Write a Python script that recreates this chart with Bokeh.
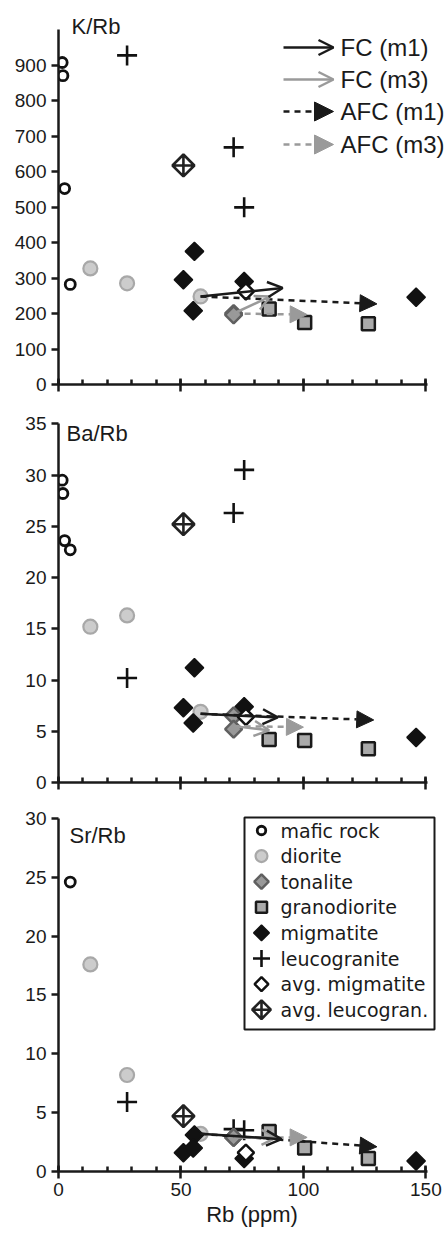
import math
from bokeh.plotting import figure
from bokeh.layouts import column
from bokeh.models import Range1d, FixedTicker, Arrow, OpenHead, NormalHead, Label
from bokeh.embed import file_html
from bokeh.resources import INLINE

NAN = float("nan")

# ------------------------------------------------------------------ data
# Rb (ppm) and element ratios, per rock group
mafic_rb = [1.5, 1.8, 2.5, 4.8]
mafic_k_rb = [907, 870, 552, 282]
mafic_ba_rb = [29.5, 28.2, 23.6, 22.7]
mafic_sr_rb = [NAN, NAN, NAN, 24.6]

diorite_rb = [13, 28, 58]
diorite_k_rb = [327, 285, 248]
diorite_ba_rb = [15.2, 16.3, 6.9]
diorite_sr_rb = [17.6, 8.2, 3.2]

tonalite_rb = [71.5, 71.5]
tonalite_k_rb = [200, 196]
tonalite_ba_rb = [6.5, 5.2]
tonalite_sr_rb = [2.9, 2.9]

granodiorite_rb = [86, 100.5, 126.5]
granodiorite_k_rb = [213, 175, 171]
granodiorite_ba_rb = [4.2, 4.1, 3.3]
granodiorite_sr_rb = [3.4, 2.0, 1.1]

migmatite_rb = [51, 55.5, 55, 75.8, 146]
migmatite_k_rb = [295, 375, 208, 290, 246]
migmatite_ba_rb = [7.3, 11.2, 5.8, 7.4, 4.4]
migmatite_sr_rb = [1.6, 3.1, 2.0, 1.1, 0.9]

leucogranite_rb = [28, 71.5, 75.8]
leucogranite_k_rb = [927, 668, 499]
leucogranite_ba_rb = [10.2, 26.3, 30.5]
leucogranite_sr_rb = [5.9, 3.6, 3.5]

avg_migmatite_rb = [76.5]
avg_migmatite_k_rb = [262]
avg_migmatite_ba_rb = [6.4]
avg_migmatite_sr_rb = [1.6]

avg_leucogran_rb = [51]
avg_leucogran_k_rb = [617]
avg_leucogran_ba_rb = [25.2]
avg_leucogran_sr_rb = [4.7]

# model trajectories: [x_start, y_start, x_end, y_end]
fc_m1_k = [58, 248, 91.5, 272]
fc_m3_k = [71.5, 200, 86.5, 248]
afc_m1_k = [58, 248, 130, 227]
afc_m3_k = [71.5, 200, 101.5, 197]

fc_m1_ba = [58, 6.7, 89.5, 6.35]
fc_m3_ba = [71.5, 5.5, 86, 5.1]
afc_m1_ba = [58, 6.7, 128.7, 6.1]
afc_m3_ba = [71.5, 5.5, 100, 5.4]

fc_m1_sr = [58, 3.2, 91, 2.75]
fc_m3_sr = [71.5, 2.9, 89, 2.9]
afc_m1_sr = [58, 3.2, 130, 2.1]
afc_m3_sr = [71.5, 2.9, 101.5, 2.9]

x_ticks = [0, 50, 100, 150]
x_minor = [0, 10, 20, 30, 40, 50, 60, 70, 80, 90, 100, 110, 120, 130, 140, 150]
k_ticks = [0, 100, 200, 300, 400, 500, 600, 700, 800, 900]
ba_ticks = [0, 5, 10, 15, 20, 25, 30, 35]
sr_ticks = [0, 5, 10, 15, 20, 25, 30]

group_names = ["mafic rock", "diorite", "tonalite", "granodiorite", "migmatite",
               "leucogranite", "avg. migmatite", "avg. leucogran."]
model_names = ["FC (m1)", "FC (m3)", "AFC (m1)", "AFC (m3)"]

# ------------------------------------------------------------------ layout
W = 445
LEFT = 58
X_END = 158.0
PX_X = (W - LEFT) / X_END
FONT = "Liberation Sans"
INK = "#1a1a1a"
GRAY_ARROW = "#9a9a9a"

STYLES = {
    "mafic rock": dict(marker="circle", size=10, fill_color="white", line_color="#111111", line_width=2.8, angle=0),
    "diorite": dict(marker="circle", size=14, fill_color="#cccccc", line_color="#a8a8a8", line_width=2.2, angle=0),
    "tonalite": dict(marker="square", size=12, fill_color="#999999", line_color="#606060", line_width=2.5, angle=math.pi / 4),
    "granodiorite": dict(marker="square", size=13, fill_color="#aaaaaa", line_color="#1a1a1a", line_width=2.5, angle=0),
    "migmatite": dict(marker="square", size=13, fill_color="#111111", line_color="#111111", line_width=1.5, angle=math.pi / 4),
    "leucogranite": dict(marker="cross", size=20, fill_color=None, line_color="#111111", line_width=2.6, angle=0),
    "avg. migmatite": dict(marker="square", size=11.5, fill_color="white", line_color="#111111", line_width=2.5, angle=math.pi / 4),
    "avg. leucogran.": dict(marker="square_x", size=15.5, fill_color="white", line_color="#222222", line_width=2.6, angle=math.pi / 4),
}


def xd(px):
    return (px - LEFT) / PX_X


def make_fig(height, border_bottom, y_end, y_bound, y_ticks, show_x):
    p = figure(width=W, height=height, x_range=Range1d(0, X_END), y_range=Range1d(0, y_end),
               output_backend="svg", toolbar_location=None,
               min_border_left=LEFT, min_border_right=0, min_border_top=0,
               min_border_bottom=border_bottom)
    p.outline_line_color = None
    p.xgrid.grid_line_color = None
    p.ygrid.grid_line_color = None
    p.background_fill_color = "white"
    p.border_fill_color = "white"

    xa = p.xaxis[0]
    xa.bounds = (0, 150.5)
    xa.ticker = FixedTicker(ticks=x_ticks, minor_ticks=x_minor)
    xa.axis_line_width = 2.5
    xa.axis_line_color = INK
    xa.major_tick_line_color = INK
    xa.major_tick_line_width = 2.5
    xa.major_tick_in = 6
    xa.major_tick_out = 7
    xa.minor_tick_line_color = INK
    xa.minor_tick_line_width = 2.5
    xa.minor_tick_in = 5
    xa.minor_tick_out = 0
    if show_x:
        xa.major_label_text_font = FONT
        xa.major_label_text_font_size = "19px"
        xa.major_label_text_color = INK
        xa.major_label_standoff = 4
        xa.axis_label = "Rb (ppm)"
        xa.axis_label_text_font = FONT
        xa.axis_label_text_font_size = "22px"
        xa.axis_label_text_font_style = "normal"
        xa.axis_label_text_color = INK
        xa.axis_label_standoff = 3
    else:
        xa.major_label_text_color = None
        xa.major_label_text_font_size = "0px"
        xa.major_label_standoff = 0

    ya = p.yaxis[0]
    ya.bounds = (0, y_bound)
    ya.ticker = FixedTicker(ticks=y_ticks)
    ya.axis_line_width = 2.5
    ya.axis_line_color = INK
    ya.major_tick_line_color = INK
    ya.major_tick_line_width = 2.5
    ya.major_tick_in = 0
    ya.major_tick_out = 7
    ya.minor_tick_line_color = None
    ya.major_label_text_font = FONT
    ya.major_label_text_font_size = "19px"
    ya.major_label_text_color = INK
    ya.major_label_standoff = 5
    return p


def add_groups(p, ys):
    xs = {
        "mafic rock": mafic_rb, "diorite": diorite_rb, "tonalite": tonalite_rb,
        "granodiorite": granodiorite_rb, "migmatite": migmatite_rb,
        "leucogranite": leucogranite_rb, "avg. migmatite": avg_migmatite_rb,
        "avg. leucogran.": avg_leucogran_rb,
    }
    for name in ["mafic rock", "diorite", "migmatite", "leucogranite", "avg. leucogran.",
                 "tonalite", "avg. migmatite", "granodiorite"]:
        st = STYLES[name]
        p.scatter(xs[name], ys[name], **st)


def add_models(p, fc_m1, fc_m3, afc_m1, afc_m3):
    p.add_layout(Arrow(end=NormalHead(size=17, fill_color=INK, line_color=INK, line_width=1),
                       x_start=afc_m1[0], y_start=afc_m1[1], x_end=afc_m1[2], y_end=afc_m1[3],
                       line_color=INK, line_width=2.5, line_dash="6 5"))
    p.add_layout(Arrow(end=NormalHead(size=17, fill_color=GRAY_ARROW, line_color=GRAY_ARROW, line_width=1),
                       x_start=afc_m3[0], y_start=afc_m3[1], x_end=afc_m3[2], y_end=afc_m3[3],
                       line_color=GRAY_ARROW, line_width=2.5, line_dash="6 5"))
    p.add_layout(Arrow(end=OpenHead(size=15, line_color=GRAY_ARROW, line_width=2.5),
                       x_start=fc_m3[0], y_start=fc_m3[1], x_end=fc_m3[2], y_end=fc_m3[3],
                       line_color=GRAY_ARROW, line_width=2.5))
    p.add_layout(Arrow(end=OpenHead(size=15, line_color=INK, line_width=2.5),
                       x_start=fc_m1[0], y_start=fc_m1[1], x_end=fc_m1[2], y_end=fc_m1[3],
                       line_color=INK, line_width=2.5))


def add_text(p, x, y, text, size, font=FONT, color=INK):
    p.add_layout(Label(x=x, y=y, text=text, text_font=font, text_font_size=f"{size}px",
                       text_color=color, text_align="left", text_baseline="middle"))


# ---------------- panel 1: K/Rb
H1, B1 = 400, 16
F1 = H1 - B1
S1 = 0.355
p1 = make_fig(H1, B1, F1 / S1, 1000, k_ticks, False)
add_groups(p1, {
    "mafic rock": mafic_k_rb, "diorite": diorite_k_rb, "tonalite": tonalite_k_rb,
    "granodiorite": granodiorite_k_rb, "migmatite": migmatite_k_rb,
    "leucogranite": leucogranite_k_rb, "avg. migmatite": avg_migmatite_k_rb,
    "avg. leucogran.": avg_leucogran_k_rb,
})
add_models(p1, fc_m1_k, fc_m3_k, afc_m1_k, afc_m3_k)


def y1(py):
    return (F1 - py) / S1


add_text(p1, xd(71), y1(26), "K/Rb", 22)

# model legend (top right of panel 1)
leg_rows = [47, 79, 111, 144]
ax0, ax1, tx = xd(283), xd(333), xd(340)
legend_specs = [
    (OpenHead(size=15, line_color=INK, line_width=2.5), INK, None),
    (OpenHead(size=15, line_color=GRAY_ARROW, line_width=2.5), GRAY_ARROW, None),
    (NormalHead(size=19, fill_color=INK, line_color=INK, line_width=1), INK, "6 5"),
    (NormalHead(size=19, fill_color=GRAY_ARROW, line_color=GRAY_ARROW, line_width=1), GRAY_ARROW, "6 5"),
]
for row, name, (head, col, dash) in zip(leg_rows, model_names, legend_specs):
    kw = dict(end=head, x_start=ax0, y_start=y1(row), x_end=ax1, y_end=y1(row),
              line_color=col, line_width=2.5)
    if dash:
        kw["line_dash"] = dash
    p1.add_layout(Arrow(**kw))
    add_text(p1, tx, y1(row), name, 24)

# ---------------- panel 2: Ba/Rb
H2, B2 = 400, 18
F2 = H2 - B2
S2 = 10.249
p2 = make_fig(H2, B2, F2 / S2, 35, ba_ticks, False)
add_groups(p2, {
    "mafic rock": mafic_ba_rb, "diorite": diorite_ba_rb, "tonalite": tonalite_ba_rb,
    "granodiorite": granodiorite_ba_rb, "migmatite": migmatite_ba_rb,
    "leucogranite": leucogranite_ba_rb, "avg. migmatite": avg_migmatite_ba_rb,
    "avg. leucogran.": avg_leucogran_ba_rb,
})
add_models(p2, fc_m1_ba, fc_m3_ba, afc_m1_ba, afc_m3_ba)
add_text(p2, xd(66), (F2 - 33) / S2, "Ba/Rb", 22)

# ---------------- panel 3: Sr/Rb
H3, B3 = 433, 62
F3 = H3 - B3
S3 = 11.767
p3 = make_fig(H3, B3, F3 / S3, 30, sr_ticks, True)


def y3(py):
    return (F3 - py) / S3


# rock legend box
p3.quad(left=[xd(244)], right=[xd(434)], top=[y3(17)], bottom=[y3(229)],
        fill_color="white", line_color=INK, line_width=2)
add_groups(p3, {
    "mafic rock": mafic_sr_rb, "diorite": diorite_sr_rb, "tonalite": tonalite_sr_rb,
    "granodiorite": granodiorite_sr_rb, "migmatite": migmatite_sr_rb,
    "leucogranite": leucogranite_sr_rb, "avg. migmatite": avg_migmatite_sr_rb,
    "avg. leucogran.": avg_leucogran_sr_rb,
})
add_models(p3, fc_m1_sr, fc_m3_sr, afc_m1_sr, afc_m3_sr)
add_text(p3, xd(69), y3(35), "Sr/Rb", 22)

LEG_SCALE = 0.85
for i, name in enumerate(group_names):
    py = 30 + i * 25.6
    st = dict(STYLES[name])
    st["size"] = st["size"] * LEG_SCALE
    p3.scatter([xd(261)], [y3(py)], **st)
    add_text(p3, xd(280), y3(py), name, 19, font="DejaVu Sans")

layout = column(p1, p2, p3, spacing=0)
open("out.html", "w").write(file_html(layout, INLINE))
